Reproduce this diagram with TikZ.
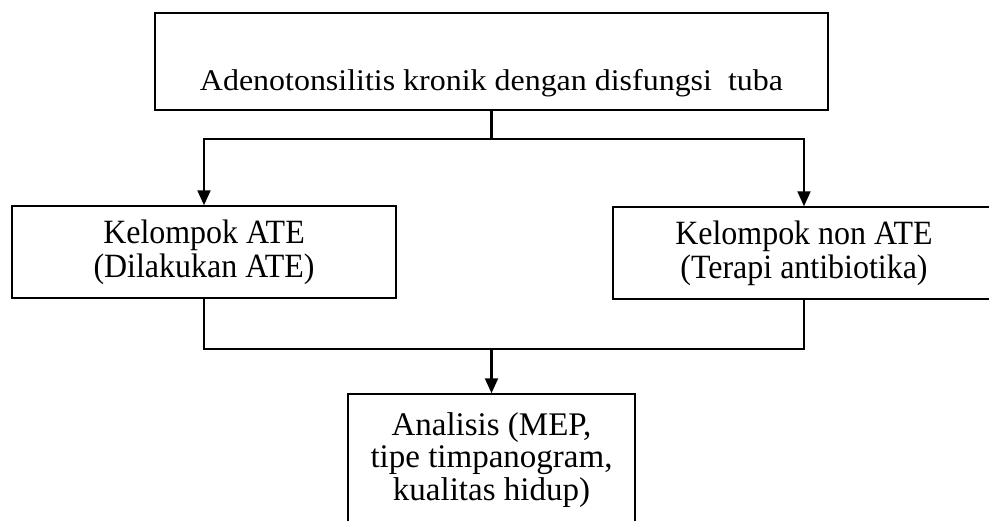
\documentclass[tikz,border=0pt]{standalone}
\usepackage{fontspec}
\setmainfont{Liberation Serif}
\newfontfamily\topfont[FakeStretch=1.065]{Liberation Serif}
\newfontfamily\groupfont[FakeStretch=0.94]{Liberation Serif}
\usetikzlibrary{arrows.meta}

\begin{document}
\begin{tikzpicture}[x=1pt,y=-1pt,
  box/.style={draw,line width=1.5pt,inner sep=0pt,align=center,font=\fontsize{33}{32.5}\selectfont},
  groupbox/.style={box,minimum height=92pt,font=\groupfont\fontsize{34}{34}\selectfont,
    execute at begin node={\rule{0pt}{33pt}}},
  line/.style={line width=2.2pt},
  arrow/.style={line width=2.2pt,-{Triangle[length=15pt,width=13pt]}}]
\useasboundingbox (0,0) rectangle (989,520);

% Top box, text sits on its lower half
\node[box,minimum width=673pt,minimum height=97pt] (top) at (491.5,61.5) {};
\node[anchor=base,font=\topfont\fontsize{30}{33}\selectfont] (toptext) at (491.5,90) {Adenotonsilitis kronik dengan disfungsi\ \ tuba};

% The two groups
\node[groupbox,minimum width=384pt] (ate) at (204,252) {Kelompok ATE\\(Dilakukan ATE)};
\node[groupbox,minimum width=382pt] (nonate) at (804,253) {Kelompok non ATE\\(Terapi antibiotika)};

% Analysis box, runs off the bottom edge
\node[box,minimum width=287pt,minimum height=132pt] (analisis) at (491.5,460) {Analisis (MEP,\\tipe timpanogram,\\kualitas hidup)};

% Connectors
\coordinate (split) at (491.5,139);
\coordinate (join) at (491.5,349);
\draw[line] (top) -- (split);
\draw[arrow] (split) -| (ate);
\draw[arrow] (split) -| (nonate);
\draw[line] (ate) |- (join);
\draw[line] (nonate) |- (join);
\draw[arrow] (join) -- (analisis);
\end{tikzpicture}
\end{document}
